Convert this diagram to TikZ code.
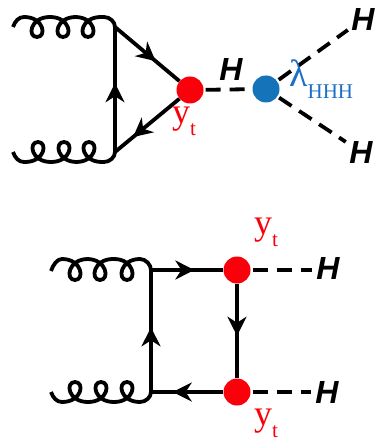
\documentclass[tikz,border=0pt]{standalone}
\usepackage{fontspec}
\setmainfont{Liberation Serif}
\setsansfont{Liberation Sans}
\usepackage{tikz}
\usetikzlibrary{arrows.meta,calc,decorations.markings}
\definecolor{vertexred}{RGB}{250,0,10}
\definecolor{vertexblue}{RGB}{20,115,185}
\definecolor{lambdablue}{RGB}{30,110,200}
\tikzset{
  line/.style={line width=3.8pt,black},
  vertex/.style={circle,minimum size=27pt,inner sep=0pt,fill=#1},
  higgs/.style={font=\fontsize{32}{32}\selectfont\sffamily\bfseries\itshape,inner sep=1pt},
  scalar/.style={line,dash pattern=on 15pt off 9pt,shorten <=2pt,shorten >=3pt},
  fermion/.style={line,postaction={decorate},decoration={markings,
    mark=at position #1 with {\arrow{Stealth[length=19pt,width=19pt,inset=6pt]}}}},
  coupling/.style={text=vertexred,inner sep=0pt,anchor=base west},
}
% #4 is the depth of the curls below (or above) the line at y=#5
\newcommand{\gluon}[5]{
  \pgfmathsetmacro{\sgn}{#4/abs(#4)}
  \draw[line,line join=round] (#1) .. controls +(2,-6*\sgn) and +(-5,0) .. ($(#1 |- 0,#5)+(11,0)$)
    \foreach \cx in {#3} {
      -- (\cx-13,#5) .. controls (\cx+7,#5) and (\cx+10,#5+#4) .. (\cx,#5+#4)
      .. controls (\cx-10,#5+#4) and (\cx-7,#5) .. (\cx+13,#5)
    } -- ($(#2 |- 0,#5)+(-11,0)$) .. controls +(6,0) and +(0,-5*\sgn) .. (#2);
}
\newcommand{\yt}{{\fontsize{36}{36}\selectfont y}\raisebox{-12pt}{\fontsize{21}{21}\selectfont t}}
\begin{document}
\begin{tikzpicture}[x=1pt,y=-1pt]
  \useasboundingbox (0,0) rectangle (375,443);
  % triangle
  \coordinate (g1) at (13,27);
  \coordinate (g2) at (13,152);
  \coordinate (tria) at (115,27);
  \coordinate (trib) at (115,152);
  \node[vertex=vertexred] (topvtx) at (190,90) {};
  \node[vertex=vertexblue] (hvtx) at (266,89) {};
  \node[higgs] (ha) at (363,19) {H};
  \node[higgs] (hb) at (361,152) {H};
  \node[higgs] (hm) at (231,69) {H};
  \gluon{g1}{tria}{37,63,88}{20}{17}
  \gluon{g2}{trib}{38,64,89}{-20}{162}
  \draw[fermion=0.55] (trib) -- (tria);
  \draw[fermion=0.63] (tria) -- (topvtx);
  \draw[fermion=0.72] (topvtx) -- (trib);
  \draw[scalar] (topvtx) -- (hvtx);
  \draw[scalar] (hvtx) -- (ha);
  \draw[scalar] (hvtx) -- (hb);
  \node[coupling] (ytop) at (172,124) {\yt};
  \node[coupling,text=lambdablue] (lam) at (289,87)
    {{\fontsize{38}{38}\selectfont λ}\raisebox{-12pt}{\fontsize{21}{21}\selectfont HHH}};
  % box
  \coordinate (g3) at (51,271);
  \coordinate (g4) at (51,392);
  \coordinate (boxa) at (151,270);
  \coordinate (boxb) at (151,392);
  \node[vertex=vertexred] (boxc) at (237,270) {};
  \node[vertex=vertexred] (boxd) at (237,392) {};
  \node[higgs] (hc) at (328,268) {H};
  \node[higgs] (hd) at (327,392) {H};
  \gluon{g3}{boxa}{75,100,127}{21}{259}
  \gluon{g4}{boxb}{75,101,127}{-20}{402}
  \draw[fermion=0.53] (boxb) -- (boxa);
  \draw[fermion=0.6] (boxa) -- (boxc);
  \draw[fermion=0.55] (boxc) -- (boxd);
  \draw[fermion=0.7] (boxd) -- (boxb);
  \draw[scalar] (boxc) -- (hc.west |- boxc);
  \draw[scalar] (boxd) -- (hd.west |- boxd);
  \node[coupling] (ytc) at (254,234) {\yt};
  \node[coupling] (ytd) at (254,425) {\yt};
\end{tikzpicture}
\end{document}
